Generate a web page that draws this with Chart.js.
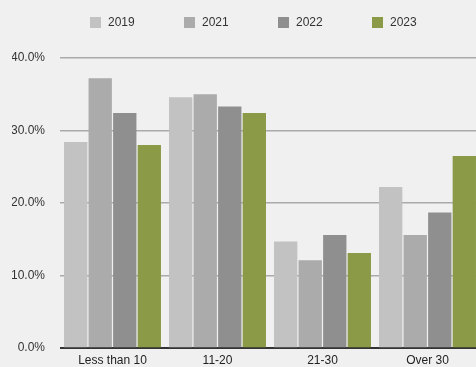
<!DOCTYPE html>
<html>
<head>
<meta charset="utf-8">
<script src="https://cdn.jsdelivr.net/npm/chart.js@4"></script>
<style>
    html, body { margin: 0; padding: 0; background: #f0f0f0; overflow: hidden; }
    .wrap { position: relative; width: 506px; height: 367px; }
    #legend { position: absolute; left: 90px; top: 15px; display: flex; font: 12px Helvetica, Arial, "Liberation Sans", sans-serif; color: #333; }
    #legend .item { width: 94px; display: flex; align-items: center; }
    #legend .box { width: 11px; height: 11px; margin-right: 7px; }
</style>
</head>
<body>
<div class="wrap">
    <canvas id="chart" width="506" height="367"></canvas>
    <div id="legend"></div>
</div>
<script>
// chart data
const categories = ['Less than 10', '11-20', '21-30', 'Over 30'];
const years = ['2019', '2021', '2022', '2023'];
const values2019 = [28.4, 34.6, 14.7, 22.2];
const values2021 = [37.2, 35.0, 12.1, 15.6];
const values2022 = [32.4, 33.3, 15.6, 18.7];
const values2023 = [28.0, 32.4, 13.1, 26.5];
const yTicks = [0, 10, 20, 30, 40];

const colors = ['#c2c2c2', '#ababab', '#8f8f8f', '#8a9a46'];
const series = [values2019, values2021, values2022, values2023];

const datasets = years.map((y, i) => ({
    label: y,
    data: series[i],
    backgroundColor: colors[i],
    borderWidth: 0,
    categoryPercentage: 0.935,
    barPercentage: 0.95
}));

// html legend
const legendEl = document.getElementById('legend');
years.forEach((y, i) => {
    const item = document.createElement('div');
    item.className = 'item';
    item.innerHTML = '<span class="box" style="background:' + colors[i] + '"></span>' + y;
    legendEl.appendChild(item);
});

const font = { family: 'Helvetica, Arial, "Liberation Sans", sans-serif', size: 12 };

new Chart(document.getElementById('chart'), {
    type: 'bar',
    data: { labels: categories, datasets: datasets },
    options: {
        responsive: false,
        animation: false,
        layout: { padding: { left: 12, right: 26, top: 58, bottom: 0 } },
        plugins: {
            legend: { display: false },
            tooltip: { enabled: false }
        },
        scales: {
            x: {
                afterFit: (scale) => { scale.height = 19; },
                grid: { display: false, drawTicks: false },
                border: { color: '#333', width: 1 },
                ticks: { color: '#222', font: font, padding: 5 }
            },
            y: {
                min: 0,
                max: 40,
                afterBuildTicks: (scale) => { scale.ticks = yTicks.map(v => ({ value: v })); },
                afterFit: (scale) => { scale.width = 48; },
                grid: {
                    color: (ctx) => ctx.tick && ctx.tick.value === 0 ? '#333' : '#aaaaaa',
                    lineWidth: 1.5,
                    drawTicks: true,
                    tickLength: 12,
                    tickColor: 'rgba(0,0,0,0)'
                },
                border: { display: false },
                ticks: {
                    color: '#333',
                    font: font,
                    padding: 3,
                    callback: (v) => Number(v).toFixed(1) + '%'
                }
            }
        }
    }
});
</script>
</body>
</html>
